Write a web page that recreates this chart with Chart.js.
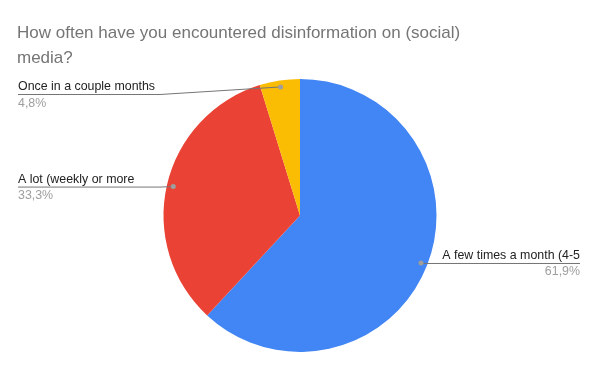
<!DOCTYPE html>
<html>
<head>
<meta charset="utf-8">
<script src="https://cdn.jsdelivr.net/npm/chart.js@4"></script>
<style>
  html, body { margin: 0; padding: 0; background: #fff; }
  canvas { display: block; }
</style>
</head>
<body>
<canvas id="myChart" width="600" height="371"></canvas>
<script>
const titleLines = ['How often have you encountered disinformation on (social)', 'media?'];
const labels = ['A few times a month (4-5', 'A lot (weekly or more', 'Once in a couple months'];
const counts = [13, 7, 1];
const colors = ['#4285F4', '#EA4335', '#FBBC04'];

const FONT = '"Liberation Sans", Arial, sans-serif';

// title + leader-line labels, Google Sheets style
const sheetLabels = {
  id: 'sheetLabels',
  afterDraw(chart) {
    const ctx = chart.ctx;
    ctx.save();
    ctx.fillStyle = '#757575';
    ctx.font = '17px ' + FONT;
    ctx.textAlign = 'left';
    ctx.textBaseline = 'alphabetic';
    titleLines.forEach((t, i) => ctx.fillText(t, 17, 38 + i * 24.5));

    const meta = chart.getDatasetMeta(0);
    const total = counts.reduce((a, b) => a + b, 0);
    meta.data.forEach((arc, i) => {
      const p = arc.getProps(['x', 'y', 'startAngle', 'endAngle', 'outerRadius'], true);
      const mid = (p.startAngle + p.endAngle) / 2;
      const r = p.outerRadius - 6.5;
      const dx = p.x + Math.cos(mid) * r;
      const dy = p.y + Math.sin(mid) * r;
      const left = Math.cos(mid) < 0;
      const ly = Math.max(dy, 94);
      const pct = (counts[i] / total * 100).toFixed(1).replace('.', ',') + '%';

      ctx.strokeStyle = '#757575';
      ctx.lineWidth = 1;
      ctx.beginPath();
      if (left) {
        ctx.moveTo(18, ly + 0.5);
        ctx.lineTo(Math.min(160, dx), ly + 0.5);
        ctx.lineTo(dx, dy);
      } else {
        ctx.moveTo(dx, ly + 0.5);
        ctx.lineTo(580, ly + 0.5);
      }
      ctx.stroke();

      ctx.fillStyle = '#9e9e9e';
      ctx.beginPath();
      ctx.arc(dx, dy, 2.5, 0, Math.PI * 2);
      ctx.fill();

      ctx.font = '12.4px ' + FONT;
      ctx.textAlign = left ? 'left' : 'right';
      const tx = left ? 18 : 580;
      ctx.fillStyle = '#222222';
      ctx.fillText(labels[i], tx, ly - 4);
      ctx.fillStyle = '#9e9e9e';
      ctx.fillText(pct, tx, ly + 12.5);
    });
    ctx.restore();
  }
};

new Chart(document.getElementById('myChart'), {
  type: 'pie',
  data: {
    labels: labels,
    datasets: [{
      data: counts,
      backgroundColor: colors,
      borderWidth: 0
    }]
  },
  options: {
    responsive: false,
    devicePixelRatio: 1,
    animation: false,
    events: [],
    layout: { padding: { top: 79, bottom: 19, left: 163.5, right: 163.5 } },
    plugins: {
      legend: { display: false },
      tooltip: { enabled: false },
      title: { display: false }
    }
  },
  plugins: [sheetLabels]
});
</script>
</body>
</html>
